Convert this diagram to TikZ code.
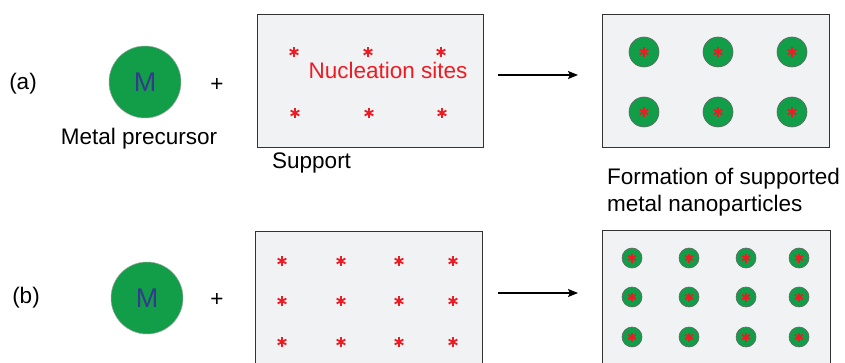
\documentclass[tikz,border=0pt]{standalone}
\usepackage{fontspec}
\setmainfont{Liberation Sans}
\usetikzlibrary{arrows.meta}
\definecolor{mgreen}{RGB}{18,158,72}
\definecolor{mred}{RGB}{237,28,36}
\definecolor{mblue}{RGB}{52,58,140}
\definecolor{boxfill}{RGB}{241,242,244}
\definecolor{boxline}{RGB}{50,50,50}
\tikzset{
  lbl/.style={font=\fontsize{22.5}{27}\selectfont, inner sep=0pt},
  metal/.style={circle, fill=mgreen, draw=gray!70, line width=0.5pt, minimum size=72pt, inner sep=0pt, font=\fontsize{27}{30}\selectfont, text=mblue},
  support/.style={draw=boxline, fill=boxfill, line width=1pt},
  np/.style={circle, fill=mgreen, draw=gray!80!black, line width=0.6pt, inner sep=0pt},
  rarrow/.style={-{Stealth[length=10pt,width=8pt,inset=2pt]}, line width=1.3pt, black},
  ast/.pic={\foreach \a in {90,30,150}{\draw[mred, line width=1.8pt] (\a:5) -- (\a+180:5);}}
}
\begin{document}
\begin{tikzpicture}[x=1pt,y=-1pt]
\useasboundingbox (0,0) rectangle (845,363);
% ---------- (a) ----------
\node[lbl] (la) at (23,84) {(a)};
\node[metal] (ma) at (145,82) {M};
\node[lbl] (mpa) at (139,139) {Metal precursor};
\node[lbl] (pa) at (217,85) {+};
\draw[support] (257,15) rectangle (483,148);
\coordinate (sa) at (483,75);
\foreach \x in {294,368,441}{\pic at (\x,52) {ast};}
\foreach \x in {295,369,442}{\pic at (\x,113) {ast};}
\node[lbl, text=mred] (ns) at (388,70) {Nucleation sites};
\node[lbl, anchor=west] (sup) at (272,163) {Support};
\draw[support] (602,15) rectangle (829,148);
\coordinate (ra) at (602,75);
\foreach \x in {644,718,792}{\foreach \y in {52,112}{
  \node[np, minimum size=30pt] at (\x,\y) {};
  \pic at (\x,\y) {ast};}}
\node[lbl, anchor=west, align=left] (form) at (607,192) {Formation of supported\\metal nanoparticles};
\draw[rarrow, shorten <=15pt, shorten >=24pt] (sa) -- (ra);
% ---------- (b) ----------
\node[lbl] (lb) at (26,298) {(b)};
\node[metal] (mb) at (147,298) {M};
\node[lbl] (pb) at (217,300) {+};
\draw[support] (255,232) rectangle (482,370);
\coordinate (sb) at (482,293);
\foreach \x in {282,341,399,453}{\foreach \y in {261,301,342}{\pic at (\x,\y) {ast};}}
\draw[support] (602,231) rectangle (830,370);
\coordinate (rb) at (602,293);
\foreach \x in {632,689,746,799}{\foreach \y in {258,297,337}{
  \node[np, minimum size=20pt] at (\x,\y) {};
  \pic[scale=0.9] at (\x,\y) {ast};}}
\draw[rarrow, shorten <=16pt, shorten >=24pt] (sb) -- (rb);
\end{tikzpicture}
\end{document}
